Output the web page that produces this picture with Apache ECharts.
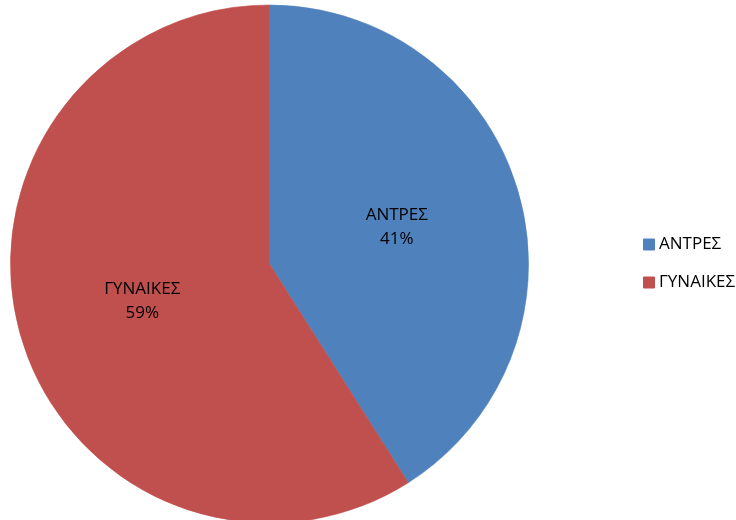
<!DOCTYPE html>
<html>
<head>
<meta charset="utf-8">
<script src="https://cdn.jsdelivr.net/npm/echarts@6/dist/echarts.min.js"></script>
<style>
  html, body { margin: 0; padding: 0; background: #ffffff; }
  #chart { width: 736px; height: 520px; }
</style>
</head>
<body>
<div id="chart"></div>
<script>
// Gender split
const categories = ['ΑΝΤΡΕΣ', 'ΓΥΝΑΙΚΕΣ'];
const values = [41, 59];
const colors = ['#4F81BD', '#C0504D'];

const chart = echarts.init(document.getElementById('chart'));
const font = '"Open Sans", "Noto Sans", sans-serif';

chart.setOption({
  animation: false,
  color: colors,
  legend: {
    orient: 'vertical',
    left: 638,
    top: 231,
    itemWidth: 10,
    itemHeight: 10,
    itemGap: 21,
    icon: 'rect',
    data: categories,
    textStyle: { fontFamily: font, fontSize: 17, color: '#000' }
  },
  series: [{
    type: 'pie',
    center: [269.5, 264],
    radius: [0, 259],
    startAngle: 90,
    clockwise: true,
    label: {
      position: 'inner',
      fontFamily: font,
      fontSize: 17,
      color: '#000',
      lineHeight: 24,
      formatter: p => p.name + '\n' + Math.round(p.percent) + '%'
    },
    labelLine: { show: false },
    emphasis: { disabled: true },
    // each slice outlined in its own colour so no seam shows between them
    data: categories.map((c, i) => ({
      name: c,
      value: values[i],
      itemStyle: { borderColor: colors[i], borderWidth: 0.6 }
    }))
  }]
});
</script>
</body>
</html>
